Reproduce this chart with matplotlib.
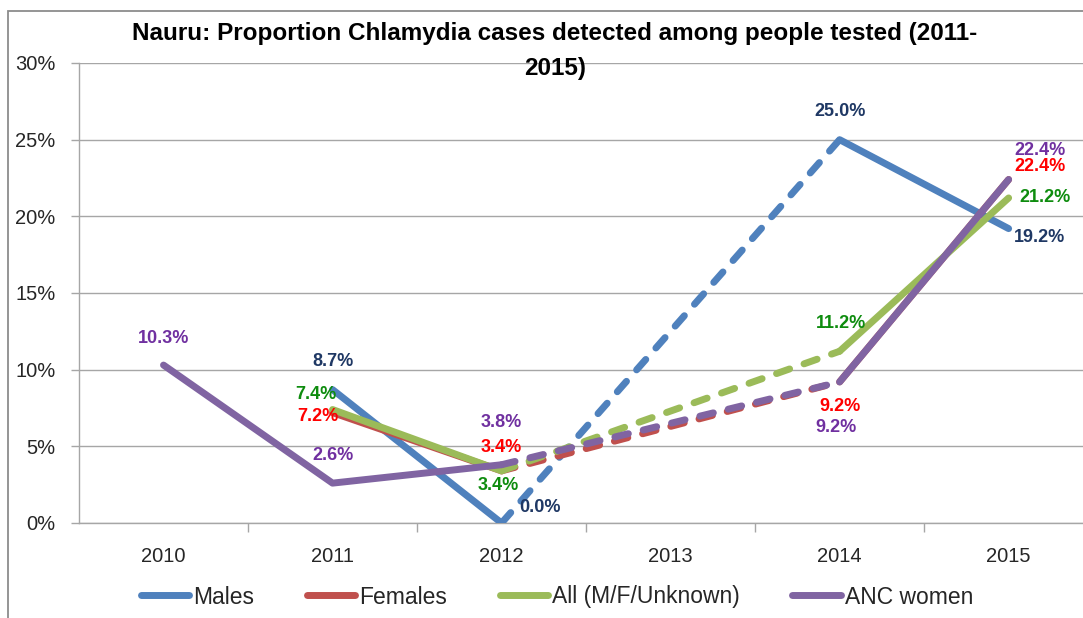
import numpy as np
import matplotlib
matplotlib.use("Agg")
import matplotlib.pyplot as plt
from matplotlib.lines import Line2D
from matplotlib.patches import Rectangle

# ---------------- data ----------------
years = ["2010", "2011", "2012", "2013", "2014", "2015"]
males = [np.nan, 8.7, 0.0, np.nan, 25.0, 19.2]
females = [np.nan, 7.2, 3.4, np.nan, 9.2, 22.4]
all_mfu = [np.nan, 7.4, 3.4, np.nan, 11.2, 21.2]
anc_women = [10.3, 2.6, 3.8, np.nan, 9.2, 22.4]
series_names = ["Males", "Females", "All (M/F/Unknown)", "ANC women"]
y_ticks = [0, 5, 10, 15, 20, 25, 30]
title_line1 = "Nauru: Proportion Chlamydia cases detected among people tested (2011-"
title_line2 = "2015)"

# ---------------- style ----------------
W, H, DPI = 1083, 618, 100
FONT = "Liberation Sans"
line_colors = ["#4F81BD", "#C0504D", "#9BBB59", "#8064A2"]
label_colors = ["#1F3864", "#FF0000", "#0E8C0E", "#7030A0"]
grid_col = "#A6A6A6"
LW = 5.0
# label offsets in screen pixels (dx right, dy down)
label_offsets = [
    {1: (0, -28), 2: (38, -15), 4: (0, -28), 5: (31, 9)},
    {1: (-15, 4), 2: (0, -23), 4: (0, 25), 5: (31, -13)},
    {1: (-17, -15), 2: (-3, 15), 4: (1, -28), 5: (36, 0)},
    {0: (0, -27), 1: (0, -28), 2: (0, -42), 4: (-4, 46), 5: (31, -29)},
]

plt.rcParams["font.family"] = [FONT, "DejaVu Sans"]

fig = plt.figure(figsize=(W / DPI, H / DPI), dpi=DPI)
fig.patch.set_facecolor("white")

# outer chart border (screenshot frame)
fig.add_artist(Rectangle((8 / W, -0.1), 1.2, (H - 11) / H + 0.1, transform=fig.transFigure,
                         fill=False, edgecolor="#8C8C8C", lw=1.3, clip_on=False))

ax = fig.add_axes([79 / W, (H - 523) / H, (W - 79) / W, 460 / H])
x = np.arange(len(years))
ax.set_xlim(-0.5, 5.44)
ax.set_ylim(0, 30)

# grid
ax.set_yticks(y_ticks)
ax.set_yticklabels([f"{t}%" for t in y_ticks])
ax.yaxis.grid(True, color=grid_col, lw=1.0)
ax.set_axisbelow(True)
for s in ["top", "right"]:
    ax.spines[s].set_visible(False)
for s in ["left", "bottom"]:
    ax.spines[s].set_color(grid_col)
    ax.spines[s].set_linewidth(1.0)

ax.set_xticks(x)
ax.set_xticklabels(years)
ax.set_xticks(x[:-1] + 0.5, minor=True)
ax.tick_params(axis="x", which="major", length=0, pad=17, labelsize=14.5, labelcolor="#262626")
ax.tick_params(axis="x", which="minor", length=6.5, width=1.0, color=grid_col, direction="out")
ax.tick_params(axis="y", which="major", length=6, width=1.0, color=grid_col, pad=11,
               labelsize=14.5, labelcolor="#262626")

series = [males, females, all_mfu, anc_women]
for k, vals in enumerate(series):
    v = np.array(vals, dtype=float)
    ok = np.where(~np.isnan(v))[0]
    # solid runs of consecutive values
    runs, cur = [], [ok[0]]
    for i in ok[1:]:
        if i == cur[-1] + 1:
            cur.append(i)
        else:
            runs.append(cur)
            # dashed bridge over the missing year(s)
            ax.plot([cur[-1], i], [v[cur[-1]], v[i]], color=line_colors[k], lw=LW,
                    dashes=(2.0, 2.2), solid_capstyle="round", dash_capstyle="round",
                    zorder=3 + k)
            cur = [i]
    runs.append(cur)
    for r in runs:
        if len(r) > 1:
            ax.plot(x[r], v[r], color=line_colors[k], lw=LW, solid_capstyle="round",
                    solid_joinstyle="round", zorder=3 + k)
    # data labels
    for i in ok:
        dx, dy = label_offsets[k].get(i, (0, -28))
        ax.annotate(f"{v[i]:.1f}%", (x[i], v[i]), xytext=(dx, -dy), textcoords="offset pixels",
                    ha="center", va="center", fontsize=13, fontweight="bold",
                    color=label_colors[k], zorder=10, annotation_clip=False)

# title (two centered lines), auto-fit width of first line
t1 = fig.text(555 / W, 1 - 40 / H, title_line1, ha="center", va="baseline",
              fontsize=16, fontweight="bold", color="#000000")
fig.canvas.draw()
wpx = t1.get_window_extent().width
t1.set_fontsize(16 * 842 / wpx)
fig.text(555 / W, 1 - 75 / H, title_line2, ha="center", va="baseline",
         fontsize=t1.get_fontsize(), fontweight="bold", color="#000000")

# legend
handles = [Line2D([0], [0], color=c, lw=LW, solid_capstyle="round") for c in line_colors]
fig.legend(handles, series_names, loc="center", bbox_to_anchor=(557 / W, 1 - 597 / H),
           ncol=4, frameon=False, fontsize=16.5, handlelength=2.1, handletextpad=0.18,
           columnspacing=2.3, labelcolor="#262626")

fig.savefig("out.png", dpi=DPI, facecolor="white")
